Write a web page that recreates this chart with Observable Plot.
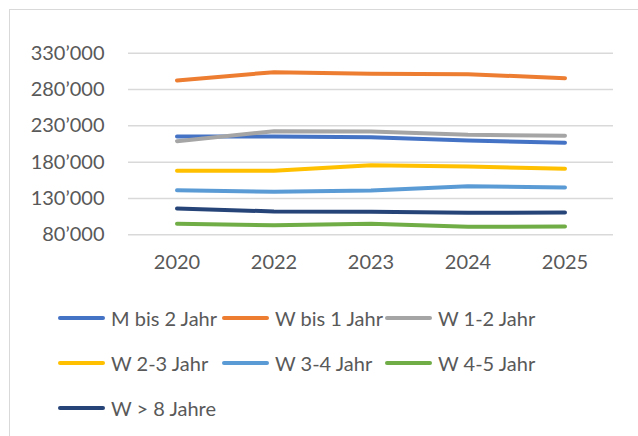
<!DOCTYPE html>
<html>
<head>
<meta charset="utf-8">
<script src="https://cdn.jsdelivr.net/npm/d3@7"></script>
<script src="https://cdn.jsdelivr.net/npm/@observablehq/plot@0.6"></script>
<style>
  html, body { margin: 0; padding: 0; background: #fff; overflow: hidden; }
  body { width: 638px; height: 436px; position: relative; font-family: Lato, "Open Sans", sans-serif; }
  #frame { position: absolute; left: 9px; top: 9px; width: 800px; height: 600px; border-top: 1.5px solid #d9d9d9; border-left: 1.5px solid #d9d9d9; }
  #chart { position: absolute; left: 0; top: 0; }
  #legend { position: absolute; left: 0; top: 0; width: 638px; height: 436px; }
  .item { position: absolute; display: flex; align-items: center; font-size: 20px; color: #595959; white-space: nowrap; }
  .sw { width: 47px; height: 4px; border-radius: 2px; margin-right: 6px; }
</style>
</head>
<body>
<div id="frame"></div>
<div id="chart"></div>
<div id="legend"></div>
<script>
const years = ["2020", "2022", "2023", "2024", "2025"];
const seriesNames = ["M bis 2 Jahr", "W bis 1 Jahr", "W 1-2 Jahr", "W 2-3 Jahr", "W 3-4 Jahr", "W 4-5 Jahr", "W > 8 Jahre"];
const mBis2 = [215400, 215400, 214400, 209800, 206700];
const wBis1 = [292500, 303900, 301700, 301100, 295600];
const w1_2 = [208900, 222600, 222200, 217700, 216300];
const w2_3 = [168100, 168100, 175900, 174000, 170900];
const w3_4 = [141400, 139200, 141000, 146900, 145100];
const w4_5 = [95100, 93200, 95100, 91000, 91400];
const wOver8 = [116200, 112100, 111700, 110300, 110700];
const seriesValues = [mBis2, wBis1, w1_2, w2_3, w3_4, w4_5, wOver8];
const colors = ["#4472C4", "#ED7D31", "#A5A5A5", "#FFC000", "#5B9BD5", "#70AD47", "#264478"];
const yTicks = [80000, 130000, 180000, 230000, 280000, 330000];

const data = [];
seriesNames.forEach((s, i) => years.forEach((y, j) => data.push({series: s, year: y, value: seriesValues[i][j]})));

const fmt = v => d3.format(",")(v).replace(/,/g, "’");

const chart = Plot.plot({
  width: 638,
  height: 290,
  marginLeft: 128,
  marginRight: 25,
  marginTop: 52.7,
  marginBottom: 55.7,
  style: {fontFamily: "Lato, 'Open Sans', sans-serif", fontSize: "20px", color: "#595959", background: "transparent", overflow: "visible"},
  x: {type: "band", domain: years, padding: 0, label: null, tickSize: 0, tickPadding: 20},
  y: {domain: [80000, 330000], ticks: yTicks, tickFormat: fmt, label: null, tickSize: 0, tickPadding: 24},
  color: {domain: seriesNames, range: colors},
  marks: [
    Plot.gridY(yTicks, {stroke: "#d9d9d9", strokeOpacity: 1, strokeWidth: 1.5}),
    Plot.line(data, {x: "year", y: "value", z: "series", stroke: "series", strokeWidth: 4, strokeLinecap: "round", strokeLinejoin: "round", curve: "linear"})
  ]
});
document.getElementById("chart").appendChild(chart);

const legendPos = [[58, 318], [222, 318], [385, 318], [58, 363], [222, 363], [385, 363], [58, 408]];
const legend = d3.select("#legend");
seriesNames.forEach((s, i) => {
  const it = legend.append("div").attr("class", "item")
    .style("left", legendPos[i][0] + "px").style("top", (legendPos[i][1] - 14) + "px").style("height", "28px");
  it.append("div").attr("class", "sw").style("background", colors[i]);
  it.append("span").text(s);
});
</script>
</body>
</html>
